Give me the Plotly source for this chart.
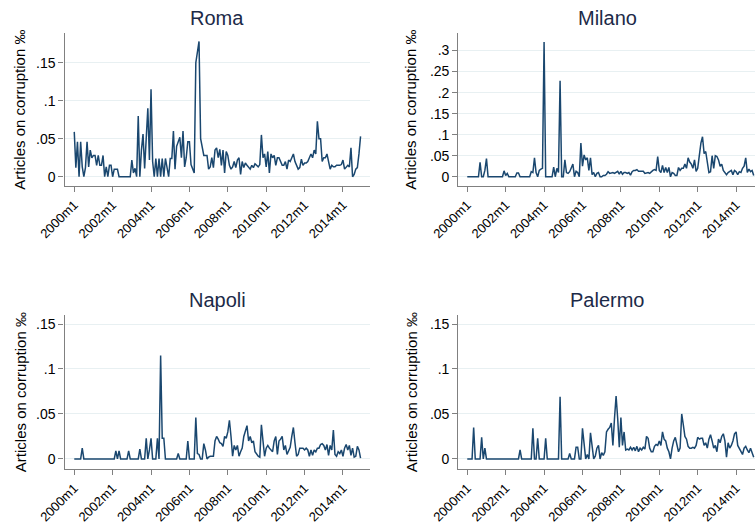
import plotly.graph_objects as go

# Monthly series, 2000m1 .. 2014m12 (180 months)
roma = [0.059, 0.012, 0.046, 0.0, 0.046, 0.013, 0.0, 0.012, 0.046, 0.013,
        0.035, 0.025, 0.028, 0.028, 0.015, 0.028, 0.015, 0.015, 0.028, 0.0,
        0.013, 0.0, 0.015, 0.015, 0.0, 0.01, 0.01, 0.01, 0.0, 0.0,
        0.0, 0.0, 0.0, 0.0, 0.0, 0.0, 0.022, 0.005, 0.011, 0.0,
        0.08, 0.0, 0.035, 0.056, 0.011, 0.05, 0.09, 0.022, 0.115, 0.02,
        0.0, 0.024, 0.0, 0.024, 0.0, 0.024, 0.0, 0.024, 0.013, 0.0,
        0.024, 0.024, 0.06, 0.01, 0.04, 0.045, 0.052, 0.025, 0.06, 0.013,
        0.025, 0.046, 0.046, 0.016, 0.01, 0.005, 0.15, 0.168, 0.178, 0.05,
        0.04, 0.028, 0.028, 0.028, 0.01, 0.013, 0.025, 0.012, 0.035, 0.038,
        0.025, 0.036, 0.015, 0.035, 0.005, 0.033, 0.028, 0.015, 0.01, 0.013,
        0.02, 0.012, 0.022, 0.025, 0.003, 0.02, 0.012, 0.018, 0.015, 0.012,
        0.01, 0.015, 0.012, 0.017, 0.015, 0.013, 0.016, 0.055, 0.025, 0.03,
        0.013, 0.033, 0.005, 0.03, 0.025, 0.028, 0.015, 0.025, 0.025, 0.02,
        0.015, 0.015, 0.02, 0.01, 0.022, 0.02, 0.025, 0.03, 0.02, 0.015,
        0.01, 0.012, 0.023, 0.015, 0.018, 0.018, 0.02, 0.025, 0.03, 0.025,
        0.035, 0.03, 0.073, 0.05, 0.05, 0.02, 0.025, 0.025, 0.03, 0.02,
        0.01, 0.015, 0.013, 0.013, 0.015, 0.015, 0.015, 0.016, 0.022, 0.01,
        0.012, 0.015, 0.013, 0.038, 0.0, 0.003, 0.01, 0.012, 0.03, 0.053]

milano = [0.0, 0.0, 0.0, 0.0, 0.0, 0.0, 0.0, 0.0, 0.034, 0.0,
          0.0, 0.015, 0.043, 0.0, 0.0, 0.0, 0.0, 0.0, 0.0, 0.0,
          0.0, 0.0, 0.0, 0.014, 0.003, 0.008, 0.0, 0.0, 0.0, 0.0,
          0.0, 0.009, 0.009, 0.0, 0.0, 0.0, 0.0, 0.0, 0.0, 0.0,
          0.012, 0.01, 0.045, 0.01, 0.0, 0.015, 0.018, 0.02, 0.32, 0.0,
          0.0, 0.0, 0.0, 0.0, 0.023, 0.0, 0.02, 0.01, 0.228, 0.0,
          0.0, 0.04, 0.01, 0.008, 0.012, 0.02, 0.03, 0.0, 0.013, 0.01,
          0.0, 0.08, 0.025, 0.052, 0.04, 0.045, 0.015, 0.045, 0.005, 0.01,
          0.0, 0.008, 0.01, 0.0, 0.0, 0.003, 0.003, 0.006, 0.012, 0.008,
          0.01, 0.01, 0.008, 0.01, 0.013, 0.006, 0.013, 0.006, 0.01, 0.01,
          0.008, 0.01, 0.004, 0.012, 0.015, 0.015, 0.017, 0.013, 0.013, 0.012,
          0.013, 0.008, 0.01, 0.01, 0.008, 0.012, 0.015, 0.017, 0.015, 0.048,
          0.015, 0.01, 0.027, 0.01, 0.022, 0.01, 0.022, 0.0, 0.01, 0.008,
          0.003, 0.003, 0.022, 0.015, 0.02, 0.02, 0.03, 0.02, 0.045, 0.035,
          0.03, 0.02, 0.04, 0.013, 0.02, 0.05, 0.08, 0.095, 0.055, 0.06,
          0.03, 0.01, 0.012, 0.05, 0.02, 0.05, 0.048, 0.04, 0.025, 0.03,
          0.015, 0.01, 0.005, 0.01, 0.012, 0.015, 0.005, 0.015, 0.012, 0.005,
          0.012, 0.01, 0.02, 0.025, 0.045, 0.01, 0.018, 0.012, 0.015, 0.003]

napoli = [0.0, 0.0, 0.0, 0.0, 0.0, 0.012, 0.0, 0.0, 0.0, 0.0,
          0.0, 0.0, 0.0, 0.0, 0.0, 0.0, 0.0, 0.0, 0.0, 0.0,
          0.0, 0.0, 0.0, 0.0, 0.0, 0.0, 0.009, 0.0, 0.009, 0.0,
          0.0, 0.0, 0.0, 0.0, 0.009, 0.0, 0.0, 0.0, 0.0, 0.0,
          0.0, 0.011, 0.0, 0.0, 0.0, 0.023, 0.0, 0.01, 0.023, 0.0,
          0.0, 0.0, 0.023, 0.0, 0.115, 0.023, 0.023, 0.0, 0.0, 0.0,
          0.0, 0.0, 0.0, 0.0, 0.0, 0.006, 0.0, 0.0, 0.0, 0.0,
          0.0, 0.02, 0.0, 0.0, 0.0, 0.0, 0.046, 0.006, 0.005, 0.0,
          0.0, 0.017, 0.01, 0.0, 0.002, 0.003, 0.003, 0.003, 0.02, 0.025,
          0.022, 0.018, 0.017, 0.014, 0.025, 0.023, 0.03, 0.043, 0.025, 0.003,
          0.015, 0.01, 0.015, 0.003, 0.008, 0.012, 0.025, 0.032, 0.037, 0.02,
          0.025, 0.018, 0.02, 0.008, 0.005, 0.003, 0.002, 0.038, 0.02, 0.003,
          0.012, 0.015, 0.012, 0.01, 0.008, 0.02, 0.025, 0.005, 0.02, 0.022,
          0.025, 0.01, 0.015, 0.005, 0.01, 0.013, 0.025, 0.035, 0.018, 0.003,
          0.005, 0.012, 0.012, 0.012, 0.01, 0.012, 0.01, 0.003, 0.01, 0.004,
          0.01, 0.008, 0.012, 0.012, 0.016, 0.017, 0.015, 0.01, 0.016, 0.004,
          0.015, 0.01, 0.032, 0.005, 0.003, 0.008, 0.006, 0.01, 0.003, 0.012,
          0.016, 0.01, 0.015, 0.004, 0.012, 0.002, 0.003, 0.014, 0.01, 0.001]

palermo = [0.0, 0.0, 0.0, 0.0, 0.035, 0.0, 0.0, 0.0, 0.0, 0.024,
           0.0, 0.012, 0.0, 0.0, 0.0, 0.0, 0.0, 0.0, 0.0, 0.0,
           0.0, 0.0, 0.0, 0.0, 0.0, 0.0, 0.0, 0.0, 0.0, 0.0,
           0.0, 0.0, 0.0, 0.01, 0.0, 0.0, 0.0, 0.0, 0.0, 0.0,
           0.0, 0.034, 0.0, 0.0, 0.023, 0.0, 0.0, 0.0, 0.0, 0.023,
           0.0, 0.0, 0.0, 0.0, 0.0, 0.0, 0.0, 0.0, 0.069, 0.0,
           0.0, 0.0, 0.0, 0.0, 0.006, 0.0, 0.0, 0.0, 0.013, 0.013,
           0.0, 0.0, 0.034, 0.02, 0.0, 0.005, 0.0, 0.029, 0.014, 0.0,
           0.003, 0.012, 0.015, 0.0, 0.007, 0.004, 0.008, 0.03, 0.033, 0.035,
           0.04, 0.015, 0.045, 0.07, 0.045, 0.013, 0.046, 0.015, 0.03, 0.01,
           0.011, 0.01, 0.013, 0.01, 0.013, 0.009, 0.014, 0.008, 0.012, 0.01,
           0.013, 0.011, 0.025, 0.023, 0.012, 0.008, 0.008, 0.014, 0.016, 0.015,
           0.02, 0.015, 0.03, 0.022, 0.02, 0.012, 0.008, 0.0, 0.012, 0.02,
           0.024, 0.015, 0.008, 0.012, 0.05, 0.038, 0.025, 0.022, 0.014, 0.012,
           0.012, 0.013, 0.012, 0.015, 0.024, 0.022, 0.023, 0.023, 0.015, 0.018,
           0.012, 0.022, 0.027, 0.02, 0.012, 0.015, 0.008, 0.022, 0.018, 0.025,
           0.028, 0.02, 0.002, 0.018, 0.012, 0.015, 0.02, 0.028, 0.03, 0.015,
           0.012, 0.008, 0.005, 0.012, 0.014, 0.01, 0.007, 0.012, 0.007, 0.002]

months = list(range(len(roma)))  # 0 = 2000m1
x_tickvals = [0, 24, 48, 72, 96, 120, 144, 168]
x_ticktext = ["2000m1", "2002m1", "2004m1", "2006m1", "2008m1", "2010m1", "2012m1", "2014m1"]

y_ticks_small = [0, 0.05, 0.1, 0.15]
y_text_small = ["0", ".05", ".1", ".15"]
y_ticks_mil = [0, 0.05, 0.1, 0.15, 0.2, 0.25, 0.3]
y_text_mil = ["0", ".05", ".1", ".15", ".2", ".25", ".3"]

cities = ["Roma", "Milano", "Napoli", "Palermo"]
series = [roma, milano, napoli, palermo]

W, H = 755, 524
LINE = "#1a476f"
AX = "#808080"
GRID = "#e8f0f2"
FONT = "Liberation Sans, Arial, sans-serif"

# panel geometry in pixels: (x0, x1, ytop, ybottom)
panels = [
    (64.5, 370.0, 33.3, 186.0),
    (458.3, 755.0, 33.3, 186.0),
    (64.5, 370.0, 315.0, 469.3),
    (458.3, 755.0, 315.0, 469.3),
]
xranges = [[-6.1, 184.9], [-5.6, 179.8], [-6.1, 184.9], [-5.6, 179.8]]
yranges = [[-0.0122, 0.1887], [-0.022, 0.341], [-0.0115, 0.160], [-0.0115, 0.160]]
yticks = [(y_ticks_small, y_text_small), (y_ticks_mil, y_text_mil),
          (y_ticks_small, y_text_small), (y_ticks_small, y_text_small)]

fig = go.Figure()
annotations = []
for i, (name, vals) in enumerate(zip(cities, series)):
    n = "" if i == 0 else str(i + 1)
    fig.add_trace(go.Scatter(x=months, y=vals, mode="lines",
                             line=dict(color=LINE, width=1.5),
                             xaxis="x" + n, yaxis="y" + n, showlegend=False))
    x0, x1, yt, yb = panels[i]
    xd = [x0 / W, min(x1 / W, 1.0)]
    yd = [1 - yb / H, 1 - yt / H]
    fig.layout["xaxis" + n] = dict(
        domain=xd, range=xranges[i], anchor="y" + n, automargin=False,
        tickvals=x_tickvals, ticktext=x_ticktext, tickangle=-45,
        ticks="outside", ticklen=5, tickcolor=AX, tickwidth=1.2,
        showline=True, linecolor=AX, linewidth=1.3,
        showgrid=False, zeroline=False,
        tickfont=dict(family=FONT, size=13, color="black"))
    tv, tt = yticks[i]
    fig.layout["yaxis" + n] = dict(
        domain=yd, range=yranges[i], anchor="x" + n, automargin=False,
        tickvals=tv, ticktext=tt,
        ticks="outside", ticklen=5, tickcolor=AX, tickwidth=1.2,
        showline=True, linecolor=AX, linewidth=1.3,
        showgrid=True, gridcolor=GRID, gridwidth=1.2, zeroline=False,
        tickfont=dict(family=FONT, size=14, color="black"))
    # panel title
    cx = (x0 + (x1 if i % 2 == 0 else 756.0)) / 2 / W
    ty = 18 if i < 2 else 299.5
    annotations.append(dict(text=name, x=cx, y=1 - ty / H, xref="paper", yref="paper",
                            xanchor="center", yanchor="middle", showarrow=False,
                            font=dict(family=FONT, size=20, color="#1c2a48")))
    # y-axis title
    tx = 20 if i % 2 == 0 else 411
    annotations.append(dict(text="Articles on corruption ‰", textangle=-90,
                            x=tx / W, y=(yd[0] + yd[1]) / 2, xref="paper", yref="paper",
                            xanchor="center", yanchor="middle", showarrow=False,
                            font=dict(family=FONT, size=15, color="black")))

fig.update_layout(width=W, height=H,
                  margin=dict(l=0, r=0, t=0, b=0, pad=0, autoexpand=False),
                  paper_bgcolor="white", plot_bgcolor="white",
                  annotations=annotations)
fig.write_html("out.html", config={"displayModeBar": False},
               post_script="document.body.style.margin='0';document.body.style.padding='0';")
